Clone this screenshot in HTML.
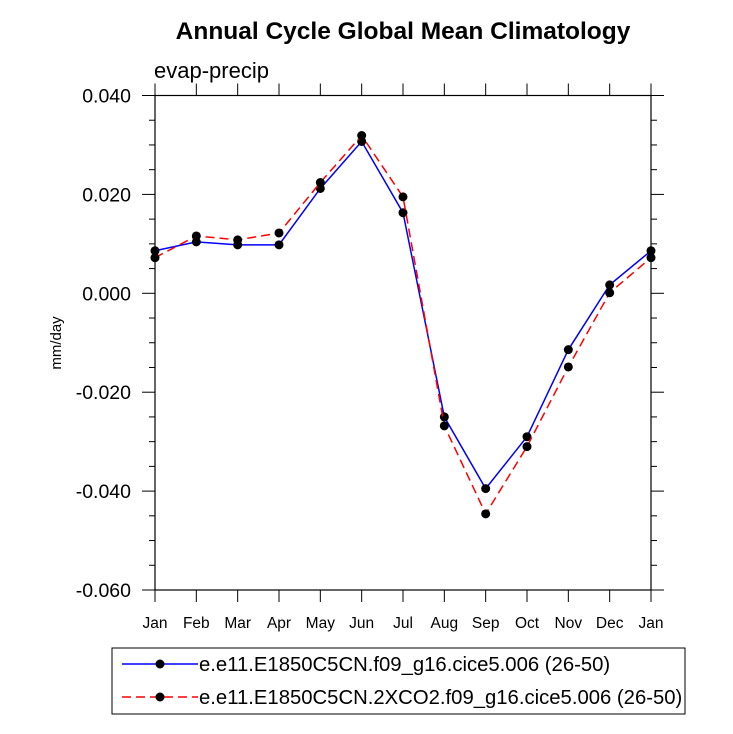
<!DOCTYPE html>
<html><head><meta charset="utf-8"><style>
html,body{margin:0;padding:0;background:#fff;}
svg{display:block;font-family:"Liberation Sans",Arial,sans-serif;}
</style></head><body>
<svg id="chart" width="733" height="734" viewBox="0 0 733 734">
<text x="403" y="39" text-anchor="middle" font-size="24.5" font-weight="bold">Annual Cycle Global Mean Climatology</text>
<text x="154" y="78" font-size="22">evap-precip</text>
<text transform="translate(61,343) rotate(-90)" text-anchor="middle" font-size="15">mm/day</text>
<g id="axes"></g>
<g id="series"></g>
<g>
<rect x="112" y="648" width="573" height="66" fill="#fff" stroke="#000" stroke-width="1"/>
<line x1="122" y1="664" x2="198" y2="664" stroke="#00f" stroke-width="1.5"/>
<circle cx="160" cy="664" r="4.5" fill="#000"/>
<text x="199" y="671" font-size="20.3">e.e11.E1850C5CN.f09_g16.cice5.006 (26-50)</text>
<line x1="122" y1="697" x2="198" y2="697" stroke="#f00" stroke-width="1.5" stroke-dasharray="9,5"/>
<circle cx="160" cy="697" r="4.5" fill="#000"/>
<text x="199" y="704" font-size="20.3">e.e11.E1850C5CN.2XCO2.f09_g16.cice5.006 (26-50)</text>
</g>
</svg>
<script>
const months = ["Jan","Feb","Mar","Apr","May","Jun","Jul","Aug","Sep","Oct","Nov","Dec","Jan"];
const yTicks = [0.04,0.02,0,-0.02,-0.04,-0.06];
const yTickLabels = ["0.040","0.020","0.000","-0.020","-0.040","-0.060"];
const controlValues = [0.0086,0.0104,0.0098,0.0098,0.0212,0.0307,0.0163,-0.0250,-0.0395,-0.0290,-0.0114,0.0017,0.0086];
const co2Values = [0.0072,0.0116,0.0108,0.0122,0.0224,0.0319,0.0195,-0.0268,-0.0446,-0.0310,-0.0149,0.0001,0.0072];

const NS="http://www.w3.org/2000/svg";
const X0=155,X1=651,Y0=95.5,Y1=590,YMAX=0.04,YMIN=-0.06;
function xs(i){return X0+(X1-X0)*i/(months.length-1);}
function ys(v){return Y0+(YMAX-v)/(YMAX-YMIN)*(Y1-Y0);}
function mk(tag,attrs,parent){const e=document.createElementNS(NS,tag);for(const k in attrs)e.setAttribute(k,attrs[k]);parent.appendChild(e);return e;}
const ax=document.getElementById('axes');
const frame=mk('rect',{x:X0,y:Y0,width:X1-X0,height:Y1-Y0,fill:'none',stroke:'#000','stroke-width':1.2},ax);


for(let v=YMIN;v<=YMAX+1e-9;v+=0.005){
  const y=ys(v);const major=Math.abs(Math.round(v*1000)%20)<1e-6;
  const L=major?13:6;
  mk('line',{x1:X0-L,y1:y,x2:X0,y2:y,stroke:'#000','stroke-width':1},ax);
  mk('line',{x1:X1,y1:y,x2:X1+L,y2:y,stroke:'#000','stroke-width':1},ax);
}
yTicks.forEach((v,i)=>{
  const t=mk('text',{x:X0-24,y:ys(v)+7,'text-anchor':'end','font-size':19.5},ax);
  t.textContent=yTickLabels[i];
  
  
});
months.forEach((m,i)=>{
  const x=xs(i);
  mk('line',{x1:x,y1:Y1,x2:x,y2:Y1+12,stroke:'#000','stroke-width':1},ax);
  mk('line',{x1:x,y1:Y0-12,x2:x,y2:Y0,stroke:'#000','stroke-width':1},ax);
  const t=mk('text',{x:x,y:Y1+38,'text-anchor':'middle','font-size':15.5},ax);
  t.textContent=m;
  
  
});
const sg=document.getElementById('series');
function drawSeries(vals,color,dash,name){
  const g=mk('g',{},sg);
  
  
  const pts=vals.map((v,i)=>xs(i)+','+ys(v)).join(' ');
  const a={points:pts,fill:'none',stroke:color,'stroke-width':1.5};
  if(dash)a['stroke-dasharray']=dash;
  mk('polyline',a,g);
  vals.forEach((v,i)=>{
    const c=mk('circle',{cx:xs(i),cy:ys(v),r:4.5,fill:'#000'},g);
    
    
  });
}
drawSeries(controlValues,'#00f',null,'series-control');
drawSeries(co2Values,'#f00','9,5','series-2xco2');
</script>
</body></html>
